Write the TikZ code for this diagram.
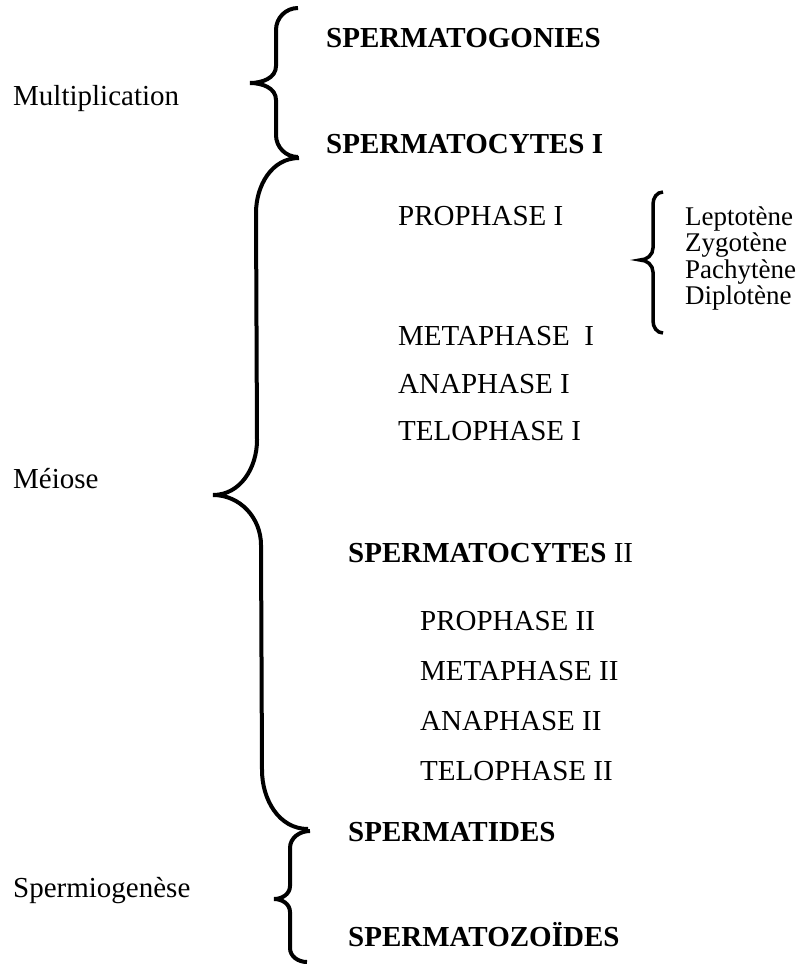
\documentclass[tikz,border=0pt]{standalone}
\usepackage{fontspec}
\setmainfont{Liberation Serif}
\usetikzlibrary{positioning}
\tikzstyle{period} = [anchor=base west, inner sep=0pt, font=\fontsize{29}{33}\selectfont]
\tikzstyle{stage} = [anchor=base west, inner sep=0pt, font=\fontsize{29}{33}\selectfont\bfseries]
\tikzstyle{phase} = [anchor=base west, inner sep=0pt, font=\fontsize{29}{33}\selectfont]
\tikzstyle{substage} = [anchor=base west, inner sep=0pt, font=\fontsize{27}{30}\selectfont]
\tikzstyle{curly} = [line width=4pt, black]

\begin{document}
\begin{tikzpicture}[x=1pt, y=1pt]
\useasboundingbox (0,0) rectangle (808,-964);

% Placement of period labels
\node (mult) [period] at (13,-105) {Multiplication};
\node (meiose) [period] at (13,-488) {Méiose};
\node (spermio) [period] at (13,-897) {Spermiogenèse};

% Placement of cell stages
\node (gonies) [stage] at (326,-47) {SPERMATOGONIES};
\node (cytesI) [stage] at (326,-153) {SPERMATOCYTES I};
\node (cytesII) [phase] at (348,-562) {\textbf{SPERMATOCYTES} II};
\node (tides) [stage] at (348,-841) {SPERMATIDES};
\node (zoides) [stage] at (348,-946) {SPERMATOZOÏDES};

% First division
\node (proI) [phase] at (398,-225) {PROPHASE I};
\node (metI) [below=120pt of proI.base west, phase] {METAPHASE~~I};
\node (anaI) [below=48pt of metI.base west, phase] {ANAPHASE I};
\node (teloI) [below=47pt of anaI.base west, phase] {TELOPHASE I};

% Sub-stages of prophase I
\node (lepto) [substage] at (685,-225) {Leptotène};
\node (zygo) [below=26.5pt of lepto.base west, substage] {Zygotène};
\node (pachy) [below=26.5pt of zygo.base west, substage] {Pachytène};
\node (diplo) [below=26.5pt of pachy.base west, substage] {Diplotène};

% Second division
\node (proII) [phase] at (420,-630) {PROPHASE II};
\node (metII) [below=50pt of proII.base west, phase] {METAPHASE II};
\node (anaII) [below=50pt of metII.base west, phase] {ANAPHASE II};
\node (teloII) [below=50pt of anaII.base west, phase] {TELOPHASE II};

% Drawing of braces
\draw [curly] (298,-8) to[out=180,in=90] (276,-30) -- (276,-66)
  to[out=-90,in=0] (250,-83) to[out=0,in=90] (276,-100) -- (276,-135)
  to[out=-90,in=180] (298,-157);
\draw [curly] (299,-158) to[out=180,in=90] (256,-213) -- (257,-440)
  to[out=-90,in=0] (213,-495) to[out=0,in=90] (261,-545) -- (262,-770)
  to[out=-90,in=180] (308,-829);
\draw [curly] (310,-831) to[out=180,in=90] (290,-848) -- (290,-886)
  to[out=-90,in=0] (274,-899) to[out=0,in=90] (290,-912) -- (290,-948)
  to[out=-90,in=180] (307,-962);
\draw [curly, line width=3.5pt] (663,-192) to[out=180,in=90] (653,-204) -- (653,-248)
  to[out=-90,in=0] (640,-260) to[out=0,in=90] (653,-272) -- (653,-321)
  to[out=-90,in=180] (663,-333);

\end{tikzpicture}
\end{document}
